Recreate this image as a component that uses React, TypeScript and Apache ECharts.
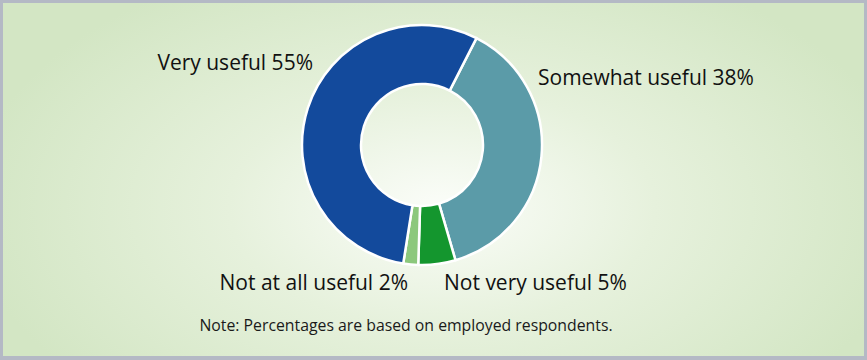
import React, { useEffect, useRef } from "react";
import * as echarts from "echarts";

const categories = ["Somewhat useful", "Not very useful", "Not at all useful", "Very useful"];
const values = [38, 5, 2, 55];
const colors = ["#5b9ba8", "#14962e", "#8cc87c", "#134a9c"];
const labelPos = [
  { x: 535, y: 74, align: "left" },
  { x: 441, y: 279, align: "left" },
  { x: 405, y: 279, align: "right" },
  { x: 310, y: 59, align: "right" },
];
const note = "Note: Percentages are based on employed respondents.";

export default function App() {
  const ref = useRef<HTMLDivElement>(null);
  useEffect(() => {
    document.body.style.margin = "0";
    const chart = echarts.init(ref.current!, undefined, { renderer: "svg" });
    chart.setOption({
      animation: false,
      backgroundColor: "transparent",
      textStyle: { fontFamily: "Open Sans" },
      graphic: [
        {
          type: "text",
          x: 403,
          y: 322,
          style: {
            text: note,
            fontSize: 15.8,
            fill: "#1a1a1a",
            fontFamily: "Open Sans",
            align: "center",
            verticalAlign: "middle",
          },
        },
      ],
      series: [
        {
          type: "pie",
          center: [419, 142],
          radius: [61, 120],
          startAngle: 63,
          clockwise: true,
          itemStyle: { borderColor: "#ffffff", borderWidth: 2.5 },
          labelLine: { show: false },
          label: {
            show: true,
            position: "outside",
            formatter: (p: any) => `${p.name} ${p.value}%`,
            fontSize: 21,
            color: "#111",
            fontFamily: "Open Sans",
          },
          labelLayout: (p: any) => {
            const lp = labelPos[p.dataIndex];
            return { x: lp.x, y: lp.y, align: lp.align, verticalAlign: "middle" };
          },
          emphasis: { disabled: true },
          data: categories.map((c, i) => ({ name: c, value: values[i], itemStyle: { color: colors[i] } })),
        },
      ],
    });
    return () => chart.dispose();
  }, []);
  return (
    <div
      style={{
        width: 867,
        height: 360,
        boxSizing: "border-box",
        borderStyle: "solid",
        borderColor: "#b4b9c5",
        borderWidth: "3px 3px 4px 3px",
        background: "radial-gradient(ellipse 55% 75% at 51% 58%, #fbfdf9 0%, #e6f1dc 45%, #d3e6c4 100%)",
      }}
    >
      <div ref={ref} style={{ width: 861, height: 353 }} />
    </div>
  );
}
